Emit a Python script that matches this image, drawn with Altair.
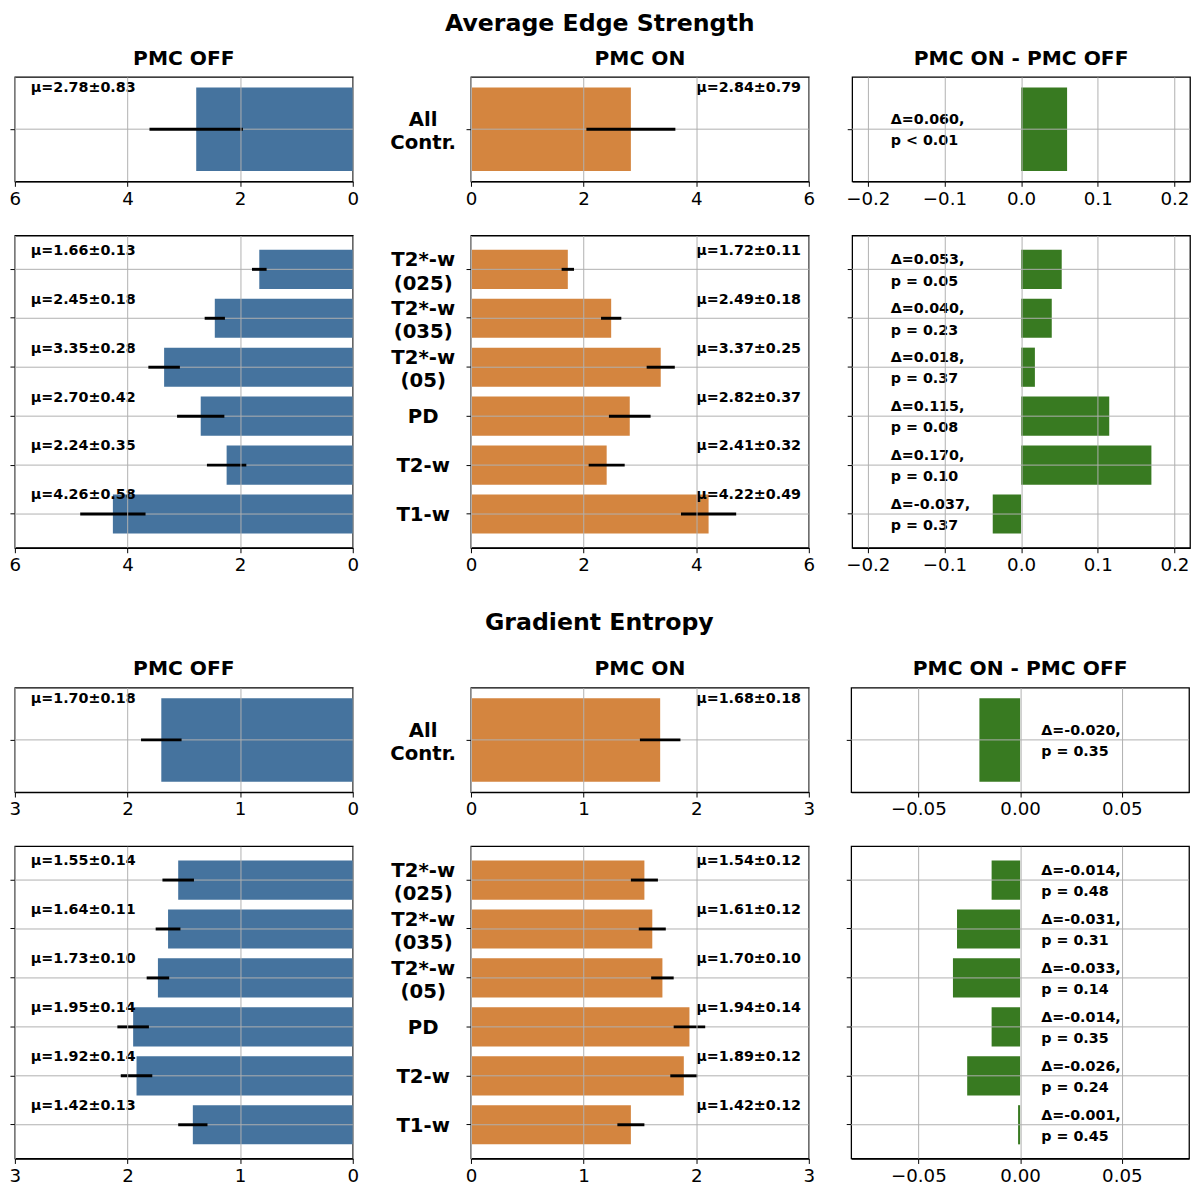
import altair as alt
import pandas as pd

FONT = "DejaVu Sans"
BLUE = "#45739e"
ORANGE = "#d4853f"
GREEN = "#387a21"
GRID = "#b0b0b0"

# ---------------- data ----------------
categories = ["T2*-w|(025)", "T2*-w|(035)", "T2*-w|(05)", "PD", "T2-w", "T1-w"]
all_category = ["All|Contr."]

# Average Edge Strength
es_all_off_mean = [2.78]
es_all_off_std = [0.83]
es_all_on_mean = [2.84]
es_all_on_std = [0.79]
es_all_delta = [0.060]
es_all_p = ["p < 0.01"]

es_off_mean = [1.66, 2.45, 3.35, 2.70, 2.24, 4.26]
es_off_std = [0.13, 0.18, 0.28, 0.42, 0.35, 0.58]
es_on_mean = [1.72, 2.49, 3.37, 2.82, 2.41, 4.22]
es_on_std = [0.11, 0.18, 0.25, 0.37, 0.32, 0.49]
es_delta = [0.053, 0.040, 0.018, 0.115, 0.170, -0.037]
es_p = ["p = 0.05", "p = 0.23", "p = 0.37", "p = 0.08", "p = 0.10", "p = 0.37"]

# Gradient Entropy
ge_all_off_mean = [1.70]
ge_all_off_std = [0.18]
ge_all_on_mean = [1.68]
ge_all_on_std = [0.18]
ge_all_delta = [-0.020]
ge_all_p = ["p = 0.35"]

ge_off_mean = [1.55, 1.64, 1.73, 1.95, 1.92, 1.42]
ge_off_std = [0.14, 0.11, 0.10, 0.14, 0.14, 0.13]
ge_on_mean = [1.54, 1.61, 1.70, 1.94, 1.89, 1.42]
ge_on_std = [0.12, 0.12, 0.10, 0.14, 0.12, 0.12]
ge_delta = [-0.014, -0.031, -0.033, -0.014, -0.026, -0.001]
ge_p = ["p = 0.48", "p = 0.31", "p = 0.14", "p = 0.35", "p = 0.24", "p = 0.45"]

# ---------------- layout ----------------
W = 343
H_TOP = 106
H_BOT = 317


def y_axis(labels):
    if labels:
        return alt.Axis(
            title=None, labels=True, labelExpr="split(datum.label, '|')",
            labelAlign="center", labelBaseline="middle", labelPadding=44,
            labelOffset={"condition": {"test": "indexof(datum.value, '|') >= 0",
                                       "value": -9}, "value": 1},
            labelFontSize=20, labelFontWeight="bold", labelFont=FONT,
            labelColor="black", labelLineHeight=23.5, ticks=True, tickSize=5,
            tickColor="black", domain=False, grid=False,
            minExtent=82, maxExtent=82,
        )
    return alt.Axis(title=None, labels=False, ticks=True, tickSize=5,
                    tickColor="black", domain=False, grid=False,
                    minExtent=5, maxExtent=5)


def x_axis(values, fmt):
    return alt.Axis(
        title=None, values=values, format=fmt, labelFontSize=18.5,
        labelFont=FONT, labelColor="black", labelPadding=3, labelFlush=False,
        labelOverlap=False, tickSize=5, tickColor="black", domainColor="black",
        domainWidth=1.3, grid=True, gridColor=GRID, gridWidth=1, zindex=1,
    )


def y_enc(cats, labels, band_pos=None):
    pad_outer = 0.1 if len(cats) == 1 else 0.29
    kw = dict(scale=alt.Scale(domain=cats, paddingInner=0.2, paddingOuter=pad_outer),
              axis=y_axis(labels), title=None)
    if band_pos is not None:
        kw["bandPosition"] = band_pos
    return alt.Y("cat:N", **kw)


def sub_title(text):
    return alt.TitleParams(text, fontSize=20.5, fontWeight="bold", font=FONT,
                           color="black", offset=8, anchor="middle")


def value_panel(cats, means, stds, color, xmax, ticks, side, labels, title=None):
    h = H_TOP if len(cats) == 1 else H_BOT
    df = pd.DataFrame({"cat": cats, "mean": means, "std": stds})
    df["label"] = [f"μ={m:.2f}±{s:.2f}" for m, s in zip(means, stds)]
    reverse = side == "off"
    tx = xmax * 0.953 if side == "off" else xmax * 2 / 3
    xscale = alt.Scale(domain=[0, xmax], reverse=reverse, nice=False, zero=True)
    xax = x_axis(ticks, "d")
    base = alt.Chart(df)
    bars = base.mark_bar(color=color).encode(
        y=y_enc(cats, labels), x=alt.X("mean:Q", scale=xscale, axis=xax))
    grid = base.mark_rule(color=GRID, strokeWidth=1).encode(
        y=y_enc(cats, labels), x=alt.value(0), x2=alt.value(W))
    err = base.transform_calculate(
        lo="datum.mean - datum.std", hi="datum.mean + datum.std"
    ).mark_rule(color="black", strokeWidth=3).encode(
        y=y_enc(cats, labels), x=alt.X("lo:Q", scale=xscale, axis=xax), x2="hi:Q")
    txt = base.mark_text(align="left", baseline="middle", font=FONT, fontSize=14.5,
                         fontWeight="bold", color="black", dy=1).encode(
        y=y_enc(cats, labels, band_pos=0), x=alt.datum(tx), text="label:N")
    ch = alt.layer(bars, grid, err, txt).properties(width=W, height=h)
    if title:
        ch = ch.properties(title=sub_title(title))
    return ch


def delta_panel(cats, deltas, ptexts, dmax, ticks, fmt, tx, title=None):
    h = H_TOP if len(cats) == 1 else H_BOT
    df = pd.DataFrame({"cat": cats, "delta": deltas})
    df["label"] = [f"Δ={d:.3f},\n{p}" for d, p in zip(deltas, ptexts)]
    xscale = alt.Scale(domain=[-dmax, dmax], nice=False, zero=True)
    xax = x_axis(ticks, fmt)
    base = alt.Chart(df)
    bars = base.mark_bar(color=GREEN).encode(
        y=y_enc(cats, False), x=alt.X("delta:Q", scale=xscale, axis=xax))
    grid = base.mark_rule(color=GRID, strokeWidth=1).encode(
        y=y_enc(cats, False), x=alt.value(0), x2=alt.value(W))
    txt = base.mark_text(align="left", baseline="middle", font=FONT, fontSize=14.5,
                         fontWeight="bold", color="black", lineBreak="\n",
                         lineHeight=21.5, dy=-9).encode(
        y=y_enc(cats, False), x=alt.datum(tx), text="label:N")
    ch = alt.layer(bars, grid, txt).properties(width=W, height=h)
    if title:
        ch = ch.properties(title=sub_title(title))
    return ch


def section(name, all_off, all_off_s, all_on, all_on_s, all_d, all_p,
            off, off_s, on, on_s, d, p, xmax, vticks, dmax, dticks, dfmt, dtx,
            title_offset):
    panels = [
        value_panel(all_category, all_off, all_off_s, BLUE, xmax, vticks, "off", False, "PMC OFF"),
        value_panel(all_category, all_on, all_on_s, ORANGE, xmax, vticks, "on", True, "PMC ON"),
        delta_panel(all_category, all_d, all_p, dmax, dticks, dfmt, dtx, "PMC ON - PMC OFF"),
        value_panel(categories, off, off_s, BLUE, xmax, vticks, "off", False),
        value_panel(categories, on, on_s, ORANGE, xmax, vticks, "on", True),
        delta_panel(categories, d, p, dmax, dticks, dfmt, dtx),
    ]
    return alt.concat(*panels, columns=3, spacing={"row": 26, "column": 29}).properties(
        title=alt.TitleParams(name, fontSize=24, fontWeight="bold", font=FONT,
                              color="black", anchor="middle", offset=title_offset))


sec1 = section("Average Edge Strength",
               es_all_off_mean, es_all_off_std, es_all_on_mean, es_all_on_std,
               es_all_delta, es_all_p,
               es_off_mean, es_off_std, es_on_mean, es_on_std, es_delta, es_p,
               6, [0, 2, 4, 6], 0.2204, [-0.2, -0.1, 0.0, 0.1, 0.2], ".1f", -0.17, 13)
sec2 = section("Gradient Entropy",
               ge_all_off_mean, ge_all_off_std, ge_all_on_mean, ge_all_on_std,
               ge_all_delta, ge_all_p,
               ge_off_mean, ge_off_std, ge_on_mean, ge_on_std, ge_delta, ge_p,
               3, [0, 1, 2, 3], 0.083, [-0.05, 0.0, 0.05], ".2f", 0.0104, 24)

chart = alt.vconcat(sec1, sec2, spacing=36).properties(
    padding={"left": 0, "top": -6, "right": 0, "bottom": 0}
).configure(font=FONT).configure_view(stroke="black", strokeWidth=1.3)

chart.save("out.html", embed_options={"renderer": "svg", "actions": False})
